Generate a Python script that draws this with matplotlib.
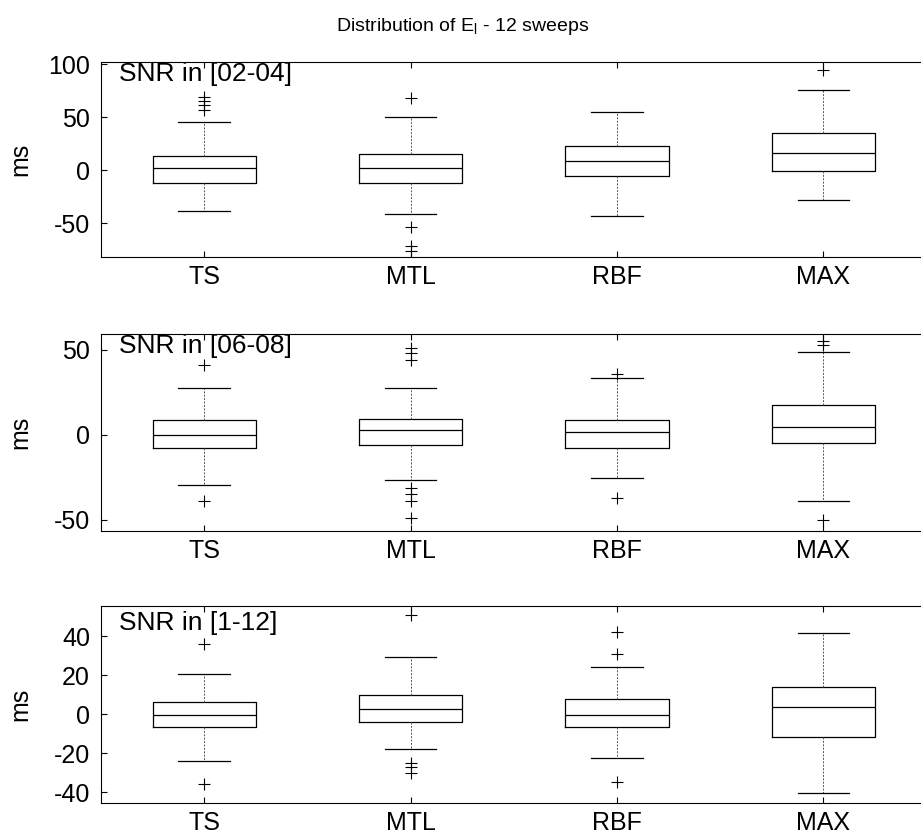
import matplotlib
matplotlib.use("Agg")
import matplotlib.pyplot as plt

plt.rcParams['font.family'] = ['Liberation Sans', 'DejaVu Sans']
plt.rcParams['axes.unicode_minus'] = False

categories = ["TS", "MTL", "RBF", "MAX"]
panel_titles = ["SNR in [02-04]", "SNR in [06-08]", "SNR in [1-12]"]

# Panel 1: SNR in [02-04]
p1_whislo = [-38.4, -41.8, -43.4, -28.0]
p1_q1 = [-12.0, -12.0, -5.9, -1.3]
p1_med = [1.9, 1.9, 8.2, 16.0]
p1_q3 = [12.9, 14.8, 22.3, 34.9]
p1_whishi = [45.6, 50.3, 55.0, 75.8]
p1_fliers = [[57, 61, 65, 69], [68, -54, -72, -76], [], [94]]

# Panel 2: SNR in [06-08]
p2_whislo = [-29.2, -26.3, -25.5, -38.8]
p2_q1 = [-7.8, -5.9, -7.8, -4.7]
p2_med = [0.0, 2.9, 2.0, 4.9]
p2_q3 = [8.6, 9.6, 8.6, 17.5]
p2_whishi = [27.5, 27.5, 33.3, 49.0]
p2_fliers = [[41, -39], [51, 48, 44, -31, -35, -39, -49], [36, -37], [55, 53, -50]]

# Panel 3: SNR in [1-12]
p3_whislo = [-24.3, -17.8, -22.7, -40.7]
p3_q1 = [-6.5, -3.9, -6.5, -11.6]
p3_med = [-0.7, 2.7, -0.7, 3.6]
p3_q3 = [6.0, 9.7, 7.9, 13.7]
p3_whishi = [20.5, 29.1, 24.1, 41.7]
p3_fliers = [[36, -36], [51, -25, -27, -30], [42, 31, -35], []]

panels = [
    (p1_whislo, p1_q1, p1_med, p1_q3, p1_whishi, p1_fliers),
    (p2_whislo, p2_q1, p2_med, p2_q3, p2_whishi, p2_fliers),
    (p3_whislo, p3_q1, p3_med, p3_q3, p3_whishi, p3_fliers),
]
ylims = [(-82, 102), (-56.5, 59.4), (-45.6, 55.4)]
yticks = [[-50, 0, 50, 100], [-50, 0, 50], [-40, -20, 0, 20, 40]]
label_y = [0.998, 0.998, 0.975]

fig = plt.figure(figsize=(9.21, 8.39), dpi=100)
positions_ax = [
    [0.1097, 0.6937, 0.8963, 0.2324],
    [0.1097, 0.3671, 0.8963, 0.2348],
    [0.1097, 0.0429, 0.8963, 0.2348],
]

for i, (wl, q1, md, q3, wh, fl) in enumerate(panels):
    ax = fig.add_axes(positions_ax[i])
    stats = []
    for j in range(len(categories)):
        stats.append(dict(label=categories[j], whislo=wl[j], q1=q1[j], med=md[j],
                          q3=q3[j], whishi=wh[j], fliers=fl[j]))
    ax.bxp(stats, positions=[1, 2, 3, 4], widths=0.5, capwidths=0.25,
           boxprops=dict(color='black', linewidth=0.9),
           medianprops=dict(color='black', linewidth=0.9),
           whiskerprops=dict(color='#555555', linewidth=0.7, linestyle=(0, (2, 1.5))),
           capprops=dict(color='black', linewidth=0.9),
           flierprops=dict(marker='+', markeredgecolor='black', markersize=8,
                           markeredgewidth=0.8, linestyle='none'))
    ax.set_xlim(0.5, 4.5)
    ax.set_ylim(*ylims[i])
    ax.set_yticks(yticks[i])
    ax.set_xticks([1, 2, 3, 4])
    ax.set_xticklabels(categories)
    ax.tick_params(axis='both', direction='in', labelsize=18, length=4, width=0.8,
                   top=True, right=True)
    ax.tick_params(axis='y', pad=8)
    ax.tick_params(axis='x', pad=6)
    for s in ax.spines.values():
        s.set_linewidth(0.8)
    ax.set_ylabel("ms", fontsize=18)
    ax.yaxis.set_label_coords(-0.098, 0.5)
    ax.yaxis.label.set_va('center')
    ax.text(0.022, label_y[i], panel_titles[i], transform=ax.transAxes, fontsize=19,
            va='top', ha='left')

fig.text(0.502, 0.968, r"Distribution of E$_{\mathregular{l}}$ - 12 sweeps", ha='center',
         va='center', fontsize=14)

fig.savefig("out.png", dpi=100)
